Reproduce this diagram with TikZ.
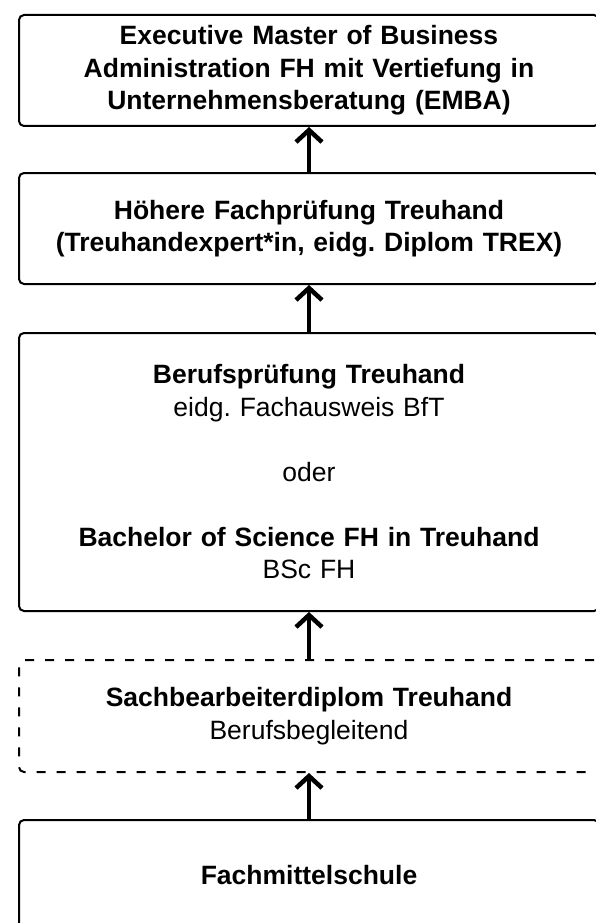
\documentclass[tikz,border=0pt]{standalone}
\usepackage{fontspec}
\setmainfont{Liberation Sans}
\usetikzlibrary{arrows.meta}
\frenchspacing

\begin{document}
\begin{tikzpicture}[x=1pt, y=-1pt,
        stufe/.style={draw, line width=2pt, rounded corners=5pt, anchor=north west, minimum width=580pt, minimum height=111pt, text width=575pt, align=center, inner sep=0pt, font=\fontsize{26.5}{32.5}\selectfont},
        weg/.style={line width=4.5pt, -{Straight Barb[length=12pt, width=26pt]}}]
            \useasboundingbox (0,0) rectangle (595,923);
            \node[stufe] (emba) at (18,14) {\textbf{Executive Master of Business\\ Administration FH mit Vertiefung in\\ Unternehmensberatung (EMBA)}};
            \node[stufe] (hfp) at (18,172) {\textbf{Höhere Fachprüfung Treuhand\\ (Treuhandexpert*in, eidg. Diplom TREX)}};
            \node[stufe, minimum height=278pt] (bp) at (18,332) {\textbf{Berufsprüfung Treuhand}\\ eidg. Fachausweis BfT\\[32.5pt] oder\\[32.5pt] \textbf{Bachelor of Science FH in Treuhand}\\ BSc FH};
            \node[stufe, minimum height=112pt, dash pattern=on 9pt off 11pt] (sbd) at (18,659) {\textbf{Sachbearbeiterdiplom Treuhand}\\ Berufsbegleitend};
            \node[stufe] (fms) at (18,819) {\textbf{Fachmittelschule}};
            \draw[weg] (hfp.north) -- (emba.south);
            \draw[weg] (bp.north) -- (hfp.south);
            \draw[weg] (sbd.north) -- (bp.south);
            \draw[weg] (fms.north) -- (sbd.south);
\end{tikzpicture}
\end{document}
